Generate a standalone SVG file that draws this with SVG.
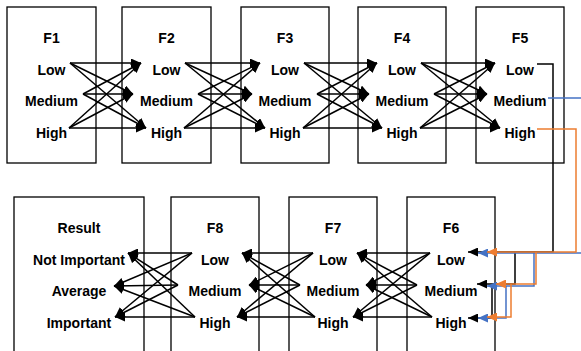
<svg xmlns="http://www.w3.org/2000/svg" width="581" height="351" viewBox="0 0 581 351">
  <style>
    .box { fill: #ffffff; stroke: #000000; stroke-width: 1.3; }
    .lbl { font-family: "Liberation Sans", Arial, sans-serif; font-weight: bold; font-size: 14px; fill: #000000; text-anchor: middle; }
    .ln { fill: none; stroke: #000000; stroke-width: 1.5; marker-end: url(#ah); }
    .wk { fill: none; stroke-width: 1.5; }
    .k { stroke: #000000; }
    .b { stroke: #4472C4; }
    .o { stroke: #ED7D31; }
  </style>
  <defs>
    <marker id="ah" markerWidth="10" markerHeight="9" refX="10" refY="4.5" orient="auto" markerUnits="userSpaceOnUse">
      <path d="M0,0 L10,4.5 L0,9 z" fill="#000000"/>
    </marker>
    <marker id="ahb" markerWidth="10" markerHeight="9" refX="10" refY="4.5" orient="auto" markerUnits="userSpaceOnUse">
      <path d="M0,0 L10,4.5 L0,9 z" fill="#4472C4"/>
    </marker>
    <marker id="aho" markerWidth="10" markerHeight="9" refX="10" refY="4.5" orient="auto" markerUnits="userSpaceOnUse">
      <path d="M0,0 L10,4.5 L0,9 z" fill="#ED7D31"/>
    </marker>
  </defs>

  <!-- top row of factor boxes -->
  <g id="F1">
    <rect class="box" x="7" y="7" width="89" height="156"/>
    <text class="lbl" x="51.5" y="43">F1</text>
    <text class="lbl" x="51.5" y="75">Low</text>
    <text class="lbl" x="51.5" y="106">Medium</text>
    <text class="lbl" x="51.5" y="138">High</text>
  </g>
  <g id="F2">
    <rect class="box" x="122" y="7" width="89" height="156"/>
    <text class="lbl" x="166.5" y="43">F2</text>
    <text class="lbl" x="166.5" y="75">Low</text>
    <text class="lbl" x="166.5" y="106">Medium</text>
    <text class="lbl" x="166.5" y="138">High</text>
  </g>
  <g id="F3">
    <rect class="box" x="241" y="7" width="88" height="156"/>
    <text class="lbl" x="285" y="43">F3</text>
    <text class="lbl" x="285" y="75">Low</text>
    <text class="lbl" x="285" y="106">Medium</text>
    <text class="lbl" x="285" y="138">High</text>
  </g>
  <g id="F4">
    <rect class="box" x="358" y="7" width="88" height="156"/>
    <text class="lbl" x="402" y="43">F4</text>
    <text class="lbl" x="402" y="75">Low</text>
    <text class="lbl" x="402" y="106">Medium</text>
    <text class="lbl" x="402" y="138">High</text>
  </g>
  <g id="F5">
    <rect class="box" x="476" y="7" width="88" height="156"/>
    <text class="lbl" x="520" y="43">F5</text>
    <text class="lbl" x="520" y="75">Low</text>
    <text class="lbl" x="520" y="106">Medium</text>
    <text class="lbl" x="520" y="138">High</text>
  </g>

  <!-- bottom row of factor boxes -->
  <g id="Result">
    <rect class="box" x="14" y="197" width="130" height="170"/>
    <text class="lbl" x="79" y="233">Result</text>
    <text class="lbl" x="79" y="265">Not Important</text>
    <text class="lbl" x="79" y="296">Average</text>
    <text class="lbl" x="79" y="328">Important</text>
  </g>
  <g id="F8">
    <rect class="box" x="171" y="197" width="88" height="170"/>
    <text class="lbl" x="215" y="233">F8</text>
    <text class="lbl" x="215" y="265">Low</text>
    <text class="lbl" x="215" y="296">Medium</text>
    <text class="lbl" x="215" y="328">High</text>
  </g>
  <g id="F7">
    <rect class="box" x="289" y="197" width="88" height="170"/>
    <text class="lbl" x="333" y="233">F7</text>
    <text class="lbl" x="333" y="265">Low</text>
    <text class="lbl" x="333" y="296">Medium</text>
    <text class="lbl" x="333" y="328">High</text>
  </g>
  <g id="F6">
    <rect class="box" x="407" y="197" width="88" height="170"/>
    <text class="lbl" x="451" y="233">F6</text>
    <text class="lbl" x="451" y="265">Low</text>
    <text class="lbl" x="451" y="296">Medium</text>
    <text class="lbl" x="451" y="328">High</text>
  </g>

  <g id="connectors">
    <!-- F1 to F2 -->
    <path class="ln" d="M70,63 L141,63"/>
    <path class="ln" d="M70,63 L133,94"/>
    <path class="ln" d="M70,63 L146,128"/>
    <path class="ln" d="M83,94 L141,63"/>
    <path class="ln" d="M83,94 L133,94"/>
    <path class="ln" d="M83,94 L146,128"/>
    <path class="ln" d="M69,128 L141,63"/>
    <path class="ln" d="M69,128 L133,94"/>
    <path class="ln" d="M69,128 L146,128"/>
    <!-- F2 to F3 -->
    <path class="ln" d="M185,63 L260,63"/>
    <path class="ln" d="M185,63 L252,94"/>
    <path class="ln" d="M185,63 L265,128"/>
    <path class="ln" d="M198,94 L260,63"/>
    <path class="ln" d="M198,94 L252,94"/>
    <path class="ln" d="M198,94 L265,128"/>
    <path class="ln" d="M184,128 L260,63"/>
    <path class="ln" d="M184,128 L252,94"/>
    <path class="ln" d="M184,128 L265,128"/>
    <!-- F3 to F4 -->
    <path class="ln" d="M304,63 L377,63"/>
    <path class="ln" d="M304,63 L369,94"/>
    <path class="ln" d="M304,63 L382,128"/>
    <path class="ln" d="M317,94 L377,63"/>
    <path class="ln" d="M317,94 L369,94"/>
    <path class="ln" d="M317,94 L382,128"/>
    <path class="ln" d="M303,128 L377,63"/>
    <path class="ln" d="M303,128 L369,94"/>
    <path class="ln" d="M303,128 L382,128"/>
    <!-- F4 to F5 -->
    <path class="ln" d="M421,63 L495,63"/>
    <path class="ln" d="M421,63 L487,94"/>
    <path class="ln" d="M421,63 L500,128"/>
    <path class="ln" d="M434,94 L495,63"/>
    <path class="ln" d="M434,94 L487,94"/>
    <path class="ln" d="M434,94 L500,128"/>
    <path class="ln" d="M420,128 L495,63"/>
    <path class="ln" d="M420,128 L487,94"/>
    <path class="ln" d="M420,128 L500,128"/>

    <!-- F6 to F7 -->
    <path class="ln" d="M430,253 L357,253"/>
    <path class="ln" d="M430,253 L366,285"/>
    <path class="ln" d="M430,253 L353,317"/>
    <path class="ln" d="M417,285 L357,253"/>
    <path class="ln" d="M417,285 L366,285"/>
    <path class="ln" d="M417,285 L353,317"/>
    <path class="ln" d="M432,317 L357,253"/>
    <path class="ln" d="M432,317 L366,285"/>
    <path class="ln" d="M432,317 L353,317"/>
    <!-- F7 to F8 -->
    <path class="ln" d="M313,253 L242,253"/>
    <path class="ln" d="M313,253 L249,285"/>
    <path class="ln" d="M313,253 L237,317"/>
    <path class="ln" d="M300,285 L242,253"/>
    <path class="ln" d="M300,285 L249,285"/>
    <path class="ln" d="M300,285 L237,317"/>
    <path class="ln" d="M315,317 L242,253"/>
    <path class="ln" d="M315,317 L249,285"/>
    <path class="ln" d="M315,317 L237,317"/>
    <!-- F8 to Result -->
    <path class="ln" d="M192,253 L128,253"/>
    <path class="ln" d="M192,253 L114,286"/>
    <path class="ln" d="M192,253 L115,317"/>
    <path class="ln" d="M178,285 L128,253"/>
    <path class="ln" d="M178,285 L114,286"/>
    <path class="ln" d="M178,285 L115,317"/>
    <path class="ln" d="M195,317 L128,253"/>
    <path class="ln" d="M195,317 L114,286"/>
    <path class="ln" d="M195,317 L115,317"/>

    <!-- F5 to F6 : Low (black) -->
    <path class="wk k" d="M537,64 H553 V252 H468" marker-end="url(#ah)"/>
    <path class="wk k" d="M515,252 V284 H477" marker-end="url(#ah)"/>
    <path class="wk k" d="M492,284 V318 H468" marker-end="url(#ah)"/>
    <!-- F5 to F6 : Medium (blue) -->
    <path class="wk b" d="M548,98 H581"/>
    <path class="wk b" d="M581,253 H478" marker-end="url(#ahb)"/>
    <path class="wk b" d="M534,253 V286 H487" marker-end="url(#ahb)"/>
    <path class="wk b" d="M506,286 V318 H478" marker-end="url(#ahb)"/>
    <!-- F5 to F6 : High (orange) -->
    <path class="wk o" d="M537,129 H576 V252 H487" marker-end="url(#aho)"/>
    <path class="wk o" d="M536,252 V284 H496" marker-end="url(#aho)"/>
    <path class="wk o" d="M511,284 V317 H487" marker-end="url(#aho)"/>
  </g>
</svg>
